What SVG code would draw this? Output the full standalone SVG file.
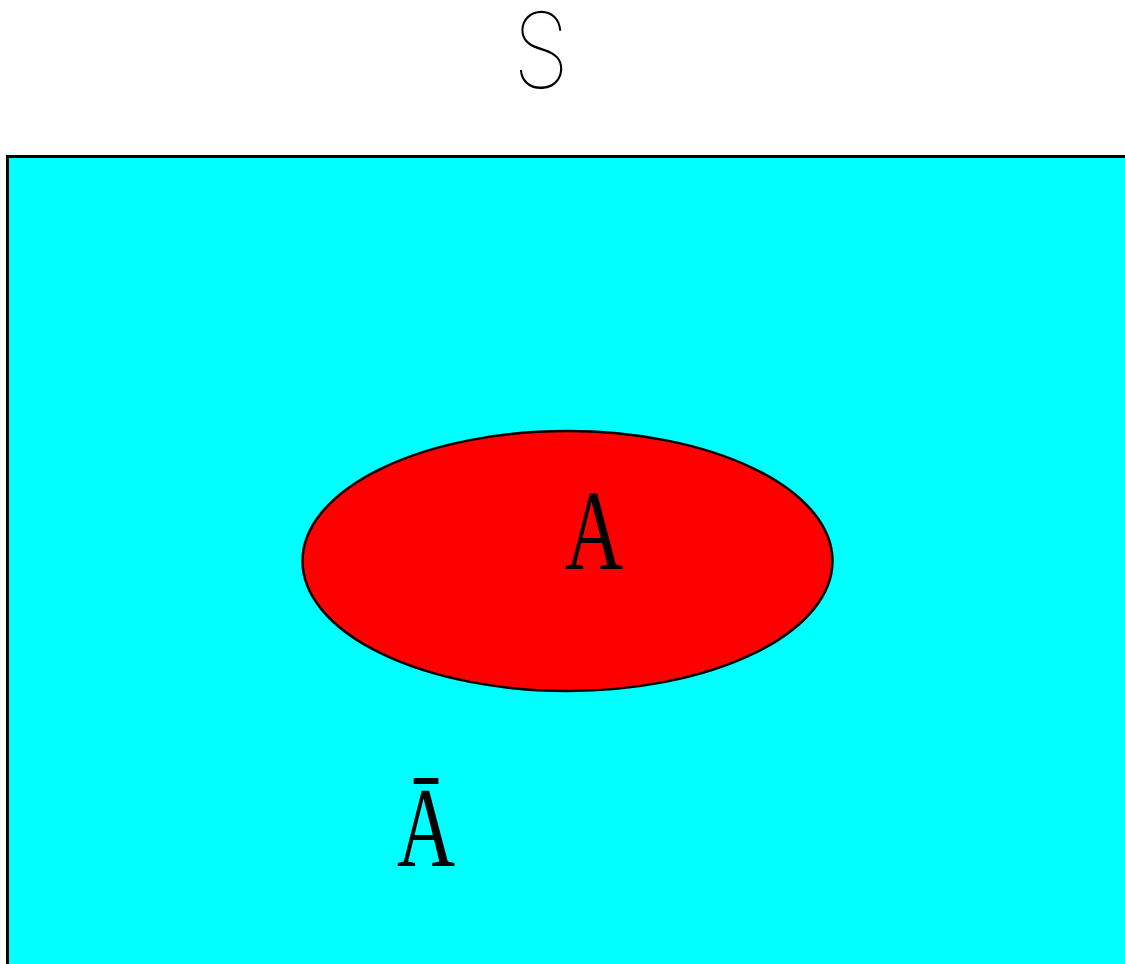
<svg xmlns="http://www.w3.org/2000/svg" width="1125" height="964" viewBox="0 0 1125 964">
<style>
.lbl{font-family:"Liberation Serif","Times New Roman",serif;font-size:115px;fill:#000;text-anchor:middle}
.title{font-family:Inter,"Liberation Sans",sans-serif;font-weight:100;font-size:105px;fill:#000;text-anchor:middle}
</style>
<rect width="1125" height="964" fill="#fff"/>
<g id="title"><text class="title" transform="translate(541,88) scale(0.88,1)">S</text></g>
<g id="S"><rect x="7.5" y="156.5" width="1130" height="820" fill="#00ffff" stroke="#000" stroke-width="3"/></g>
<g id="A"><ellipse cx="567.5" cy="561" rx="265" ry="130" fill="#ff0000" stroke="#000" stroke-width="2.5"/>
<text class="lbl" transform="translate(594,569) scale(0.7,1)">A</text></g>
<g id="notA"><text class="lbl" transform="translate(426,866) scale(0.7,1)">Ā</text></g>
<g id="connectors"></g>
</svg>
